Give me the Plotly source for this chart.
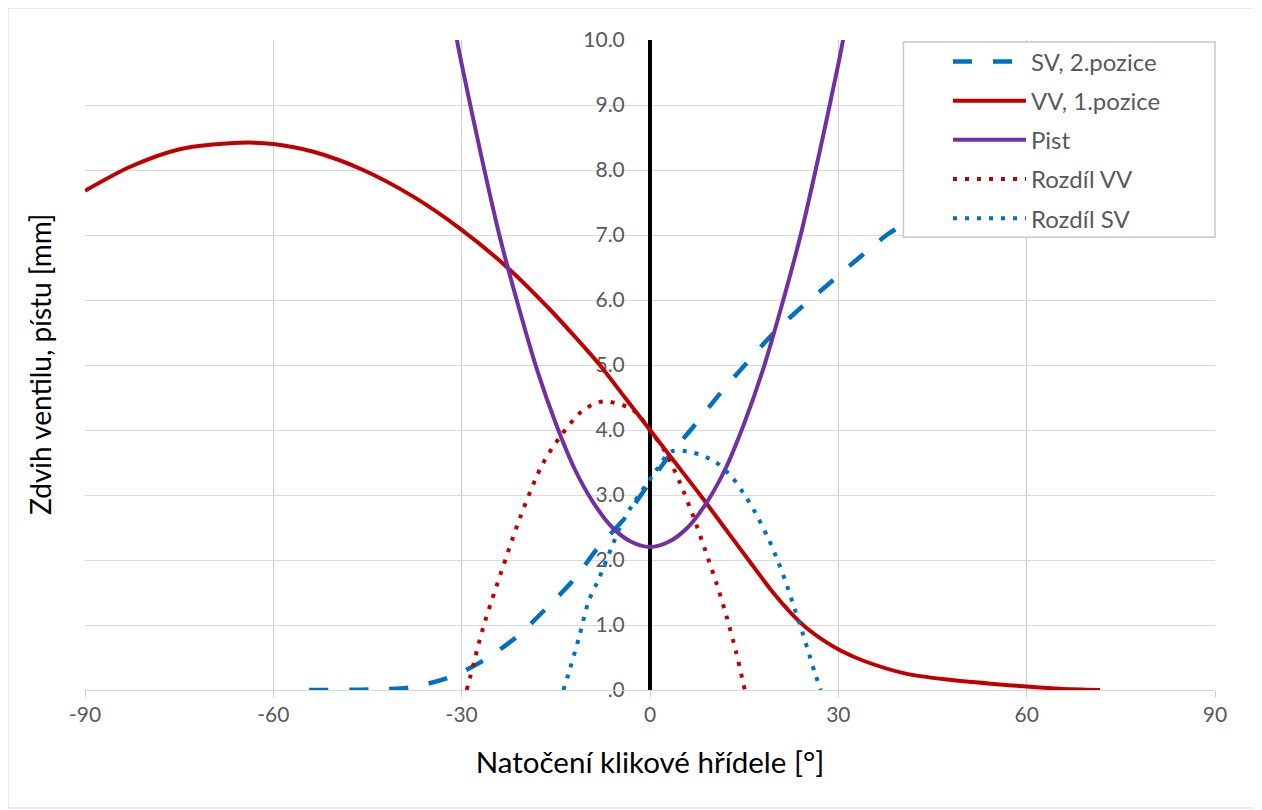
import plotly.graph_objects as go

# ---- data ----
sv_x = [-54.3, -44.6, -38.2, -31.9, -26.6, -21.2, -16.5, -12.2, -8.2, -4.25, -0.5, 3.2, 6.9, 11.15, 15.4, 19.1, 23.1, 27.9, 32.7, 37.7, 40.1, 45.0]
sv_y = [0.0, 0.01, 0.04, 0.195, 0.45, 0.82, 1.26, 1.69, 2.2, 2.62, 3.13, 3.62, 4.05, 4.56, 5.03, 5.43, 5.8, 6.2, 6.6, 7.0, 7.15, 7.5]

vv_x = [-90, -82.8, -74.9, -65.3, -60, -53.6, -45.7, -37.7, -30, -22.6, -15.9, -12.0, -8.0, -4.0, 0, 4.0, 8.0, 12.0, 15.7, 19.6, 22.5, 25.0, 28.0, 30.5, 34.0, 40.4, 47.3, 55.2, 60.5, 65.3, 71.7]
vv_y = [7.68, 8.05, 8.32, 8.42, 8.40, 8.28, 8.0, 7.59, 7.08, 6.49, 5.85, 5.44, 5.0, 4.5, 4.0, 3.5, 3.0, 2.48, 2.0, 1.5, 1.18, 0.95, 0.74, 0.6, 0.45, 0.26, 0.16, 0.09, 0.05, 0.02, 0.0]

pist_x = [-31.5, -30.75, -30, -27, -24, -21, -18, -15, -12, -9, -6, -3, 0, 3, 6, 9, 12, 15, 18, 21, 24, 27, 30, 30.75, 31.5]
pist_y = [10.5, 10.0, 9.63, 8.27, 7.0, 5.92, 4.93, 4.1, 3.4, 2.88, 2.5, 2.28, 2.2, 2.28, 2.5, 2.88, 3.4, 4.1, 4.93, 5.92, 7.0, 8.27, 9.63, 10.0, 10.5]

rvv_x = [-29.2, -28.7, -28.2, -27.3, -26.3, -25.2, -20.7, -17.3, -14.3, -10.6, -7.4, -3.7, -2.1, 0, 2.4, 4.8, 6.9, 8.8, 10.6, 12.2, 13.7, 15.1]
rvv_y = [0.0, 0.18, 0.36, 0.71, 1.05, 1.38, 2.65, 3.44, 3.9, 4.31, 4.44, 4.36, 4.26, 4.0, 3.67, 3.18, 2.67, 2.15, 1.64, 1.13, 0.59, 0.0]

rsv_x = [-13.8, -12.7, -11.2, -9.8, -8.1, -6.1, -4.5, -2.65, 0.5, 3.45, 6.9, 10.4, 13.0, 15.3, 17.1, 18.85, 20.3, 21.6, 22.8, 24.0, 25.1, 26.2, 27.2]
rsv_y = [0.0, 0.34, 0.85, 1.36, 1.72, 2.2, 2.56, 2.87, 3.31, 3.67, 3.65, 3.51, 3.28, 2.97, 2.67, 2.33, 2.0, 1.67, 1.32, 0.97, 0.63, 0.28, 0.0]

x_ticks = [-90, -60, -30, 0, 30, 60, 90]
y_ticks = [0, 1, 2, 3, 4, 5, 6, 7, 8, 9, 10]
y_tick_text = [".0", "1.0", "2.0", "3.0", "4.0", "5.0", "6.0", "7.0", "8.0", "9.0", "10.0"]

BLUE = "#0070C0"
RED = "#C00000"
PURPLE = "#7030A0"
FONT = "Lato"
DOT = "4px,8px"

fig = go.Figure()
fig.add_trace(go.Scatter(x=sv_x, y=sv_y, mode="lines", name="SV, 2.pozice", legendgroup="a",
                         line=dict(color=BLUE, width=4.5, dash="19px,21px", shape="spline", smoothing=0.8)))
fig.add_trace(go.Scatter(x=vv_x, y=vv_y, mode="lines", name="VV, 1.pozice", legendgroup="b",
                         line=dict(color=RED, width=4, shape="spline", smoothing=0.8)))
fig.add_trace(go.Scatter(x=pist_x, y=pist_y, mode="lines", name="Pist", legendgroup="c",
                         line=dict(color=PURPLE, width=4, shape="spline", smoothing=0.8)))
fig.add_trace(go.Scatter(x=rvv_x, y=rvv_y, mode="lines", name="Rozdíl VV", legendgroup="d",
                         line=dict(color=RED, width=4, dash=DOT, shape="spline", smoothing=0.8)))
fig.add_trace(go.Scatter(x=rsv_x, y=rsv_y, mode="lines", name="Rozdíl SV", legendgroup="e",
                         line=dict(color=BLUE, width=4, dash=DOT, shape="spline", smoothing=0.8)))

fig.update_layout(
    width=1262, height=810,
    margin=dict(l=77, r=55, t=32, b=128),
    paper_bgcolor="white", plot_bgcolor="white",
    font=dict(family=FONT, color="#595959"),
    showlegend=True,
    legend=dict(x=0.7637, y=1.001, xanchor="left", yanchor="top",
                bgcolor="rgba(0,0,0,0)", borderwidth=0,
                font=dict(family=FONT, size=24, color="#595959"),
                tracegroupgap=5, itemwidth=73),
    xaxis=dict(range=[-90, 90], tickvals=x_ticks, ticktext=[str(v) for v in x_ticks],
               showgrid=True, gridcolor="#cccccc", gridwidth=1,
               zeroline=False, showline=True, linecolor="#d9d9d9", linewidth=1,
               ticks="outside", ticklen=6, tickcolor="#cccccc",
               tickfont=dict(family=FONT, size=21, color="#595959"),
               title=dict(text="Natočení klikové hřídele [°]",
                          font=dict(family=FONT, size=29.5, color="#000000"), standoff=27)),
    yaxis=dict(range=[0, 10], tickvals=y_ticks, ticktext=y_tick_text,
               anchor="free", position=0.5, side="left",
               showgrid=True, gridcolor="#d9d9d9", gridwidth=1,
               zeroline=False, showline=True, linecolor="#000000", linewidth=4,
               ticks="", ticklabelstandoff=19, layer="below traces",
               tickfont=dict(family=FONT, size=21, color="#595959")),
    annotations=[dict(text="Zdvih ventilu, pístu [mm]", xref="paper", yref="paper",
                      x=-0.0398, y=0.5, textangle=-90, showarrow=False,
                      xanchor="center", yanchor="middle",
                      font=dict(family=FONT, size=28, color="#000000"))],
    shapes=[
        dict(type="rect", xref="paper", yref="paper", x0=-0.0681, x1=1.0363,
             y0=-0.1815, y1=1.0492, line=dict(color="#d9d9d9", width=1), layer="below"),
        dict(type="rect", xref="paper", yref="paper", x0=0.7243, x1=1.0,
             y0=0.6965, y1=0.9969, fillcolor="white", line=dict(color="#c8c8c8", width=1.5),
             layer="above"),
    ],
)

fig.write_html("out.html")
